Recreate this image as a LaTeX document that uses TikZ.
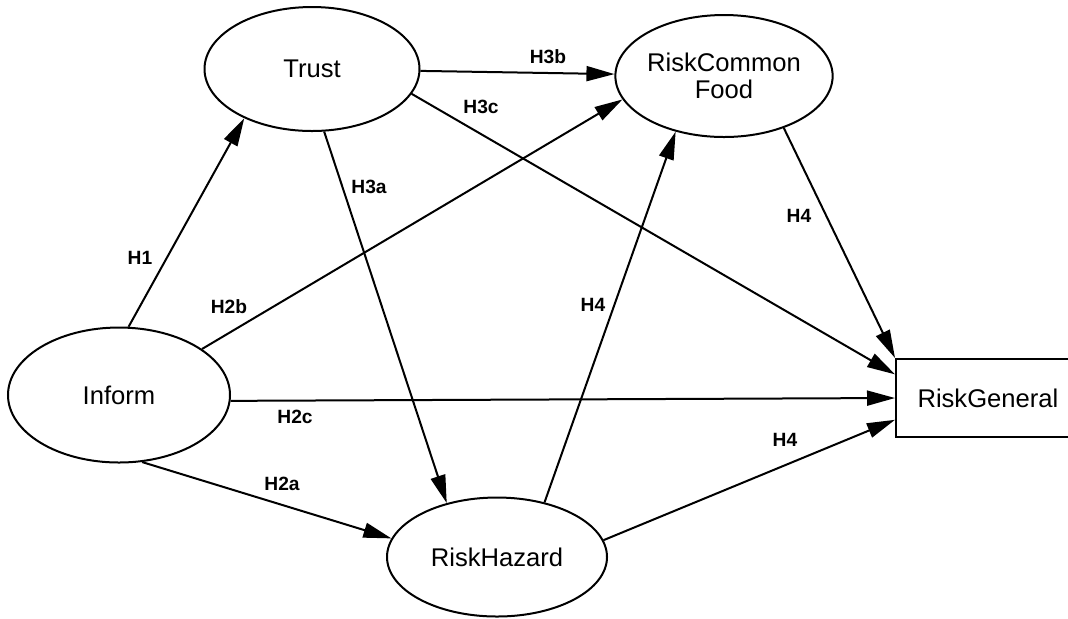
\documentclass[tikz,border=0pt]{standalone}
\usepackage{fontspec}
\setmainfont{Liberation Sans}
\usetikzlibrary{shapes.geometric,arrows.meta}

\begin{document}
\begin{tikzpicture}[x=0.5pt, y=-0.5pt, >={Triangle[length=14pt,width=7.5pt]},
    latent/.style={draw, ellipse, line width=1pt, inner sep=0pt, align=center,
      font=\fontsize{12.8}{13.5}\selectfont},
    manifest/.style={draw, rectangle, line width=1pt, inner xsep=10.75pt, inner ysep=0pt,
      text width=80pt, align=left, minimum height=39pt, font=\fontsize{12.8}{13.5}\selectfont},
    hyp/.style={inner sep=0pt, font=\fontsize{9.6}{11}\selectfont\bfseries},
    hpath/.style={->, line width=1pt}]
    \useasboundingbox (0,0) rectangle (1068,618);
    \clip (0,0) rectangle (1068,618);
    % constructs
    \node[latent, minimum width=107.5pt, minimum height=62pt] (trust) at (312,69) {Trust};
    \node[latent, minimum width=107.5pt, minimum height=61pt] (rcf) at (724,76) {RiskCommon\\Food};
    \node[latent, minimum width=111pt, minimum height=67.5pt] (inform) at (119,395) {Inform};
    \node[latent, minimum width=110pt, minimum height=59.5pt] (hazard) at (497,557) {RiskHazard};
    \node[manifest, anchor=west] (rg) at (895,398) {RiskGeneral};
    % paths
    \draw[hpath] (inform.82) -- (trust.216);
    \draw[hpath] (inform.29) -- (rcf.193.5);
    \draw[hpath] (inform.-3) -- (rg.180);
    \draw[hpath] (inform.-71) -- (hazard.170);
    \draw[hpath] (trust.-1) -- (rcf.179.5);
    \draw[hpath] (trust.-14) -- (rg.167.8);
    \draw[hpath] (trust.-79) -- (hazard.133.5);
    \draw[hpath] (hazard.49) -- (rcf.229);
    \draw[hpath] (rcf.-41.5) -- (rg.north west);
    \draw[hpath] (hazard.9) -- (rg.192.2);
    % hypotheses
    \node[hyp] (h1) at (140,258) {H1};
    \node[hyp] (h2b) at (229,307) {H2b};
    \node[hyp] (h2c) at (295,417) {H2c};
    \node[hyp] (h2a) at (282,484) {H2a};
    \node[hyp] (h3b) at (548,57) {H3b};
    \node[hyp] (h3c) at (481,107) {H3c};
    \node[hyp] (h3a) at (369,187) {H3a};
    \node[hyp] (h4a) at (593,305) {H4};
    \node[hyp] (h4b) at (799,216) {H4};
    \node[hyp] (h4c) at (785,440) {H4};
\end{tikzpicture}
\end{document}
